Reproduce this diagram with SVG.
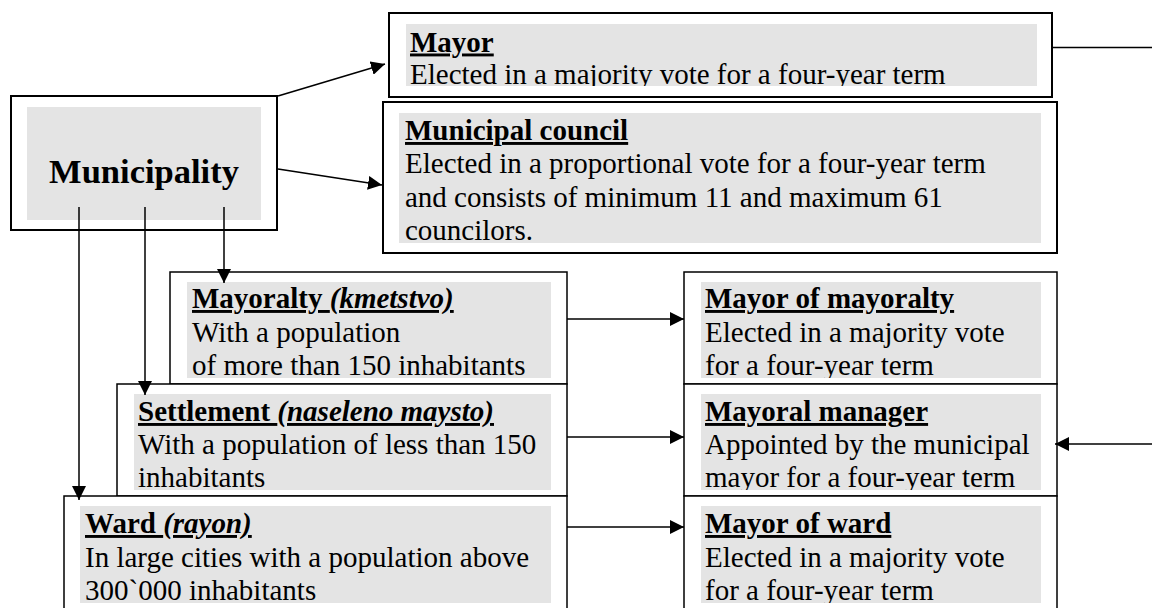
<svg xmlns="http://www.w3.org/2000/svg" width="1152" height="608" viewBox="0 0 1152 608">
<style>
.box{fill:#fff;stroke:#000;stroke-width:1.5}
.bx2{fill:#fff;stroke:#000;stroke-width:2}
.grey{fill:#e4e4e4;stroke:none}
.t{font-family:"Liberation Serif","Times New Roman",serif;font-size:29px;fill:#000}
.h{font-weight:bold;text-decoration:underline}
.i{font-style:italic}
.big{font-family:"Liberation Serif","Times New Roman",serif;font-size:34.5px;font-weight:bold;fill:#000}
.c{fill:none;stroke:#000;stroke-width:1.5}
</style>
<defs>
<marker id="arr" viewBox="0 0 14 14" refX="14" refY="7" markerWidth="14" markerHeight="14" markerUnits="userSpaceOnUse" orient="auto">
<path d="M0,0 L14,7 L0,14 z" fill="#000"/>
</marker>
<clipPath id="cMayor"><rect x="406" y="24" width="631" height="62"/></clipPath>
<clipPath id="cCouncil"><rect x="399" y="113" width="642" height="130"/></clipPath>
<clipPath id="cMay"><rect x="187" y="282" width="364" height="96"/></clipPath>
<clipPath id="cSet"><rect x="134" y="394" width="417" height="96"/></clipPath>
<clipPath id="cWard"><rect x="80" y="506" width="471" height="97"/></clipPath>
<clipPath id="cMoM"><rect x="701" y="282" width="340" height="96"/></clipPath>
<clipPath id="cMM"><rect x="701" y="394" width="340" height="96"/></clipPath>
<clipPath id="cMoW"><rect x="701" y="506" width="340" height="97"/></clipPath>
</defs>

<g id="municipality">
<rect class="bx2" x="11" y="96" width="266" height="134"/>
<rect class="grey" x="27" y="107" width="234" height="113"/>
<text class="big" x="144" y="183" text-anchor="middle">Municipality</text>
</g>

<g id="mayor">
<rect class="bx2" x="389" y="13" width="663" height="84"/>
<rect class="grey" x="406" y="24" width="631" height="62"/>
<g clip-path="url(#cMayor)">
<text class="t h" x="410" y="51.5">Mayor</text>
<text class="t" x="410" y="84">Elected in a majority vote for a four-year term</text>
</g>
</g>

<g id="council">
<rect class="bx2" x="383" y="102" width="674" height="151"/>
<rect class="grey" x="399" y="113" width="642" height="130"/>
<g clip-path="url(#cCouncil)">
<text class="t h" x="405" y="140">Municipal council</text>
<text class="t" x="405" y="173">Elected in a proportional vote for a four-year term</text>
<text class="t" x="405" y="206.5">and consists of minimum 11 and maximum 61</text>
<text class="t" x="405" y="240">councilors.</text>
</g>
</g>

<g id="mayoralty">
<rect class="box" x="170" y="272" width="397" height="112"/>
<rect class="grey" x="187" y="282" width="364" height="96"/>
<g clip-path="url(#cMay)">
<text class="t h" x="192" y="308">Mayoralty <tspan class="i">(kmetstvo)</tspan></text>
<text class="t" x="192" y="341.5">With a population</text>
<text class="t" x="192" y="375">of more than 150 inhabitants</text>
</g>
</g>

<g id="settlement">
<rect class="box" x="117" y="384" width="450" height="112"/>
<rect class="grey" x="134" y="394" width="417" height="96"/>
<g clip-path="url(#cSet)">
<text class="t h" x="138" y="421">Settlement <tspan class="i">(naseleno maysto)</tspan></text>
<text class="t" x="138" y="454">With a population of less than 150</text>
<text class="t" x="138" y="487">inhabitants</text>
</g>
</g>

<g id="ward">
<rect class="box" x="64" y="496" width="503" height="120"/>
<rect class="grey" x="80" y="506" width="471" height="97"/>
<g clip-path="url(#cWard)">
<text class="t h" x="85" y="533">Ward <tspan class="i">(rayon)</tspan></text>
<text class="t" x="85" y="566.5">In large cities with a population above</text>
<text class="t" x="85" y="599.5">300`000 inhabitants</text>
</g>
</g>

<g id="mayor-of-mayoralty">
<rect class="box" x="684" y="272" width="373" height="112"/>
<rect class="grey" x="701" y="282" width="340" height="96"/>
<g clip-path="url(#cMoM)">
<text class="t h" x="705" y="308">Mayor of mayoralty</text>
<text class="t" x="705" y="341.5">Elected in a majority vote</text>
<text class="t" x="705" y="375">for a four-year term</text>
</g>
</g>

<g id="mayoral-manager">
<rect class="box" x="684" y="384" width="373" height="112"/>
<rect class="grey" x="701" y="394" width="340" height="96"/>
<g clip-path="url(#cMM)">
<text class="t h" x="705" y="421">Mayoral manager</text>
<text class="t" x="705" y="454">Appointed by the municipal</text>
<text class="t" x="705" y="487">mayor for a four-year term</text>
</g>
</g>

<g id="mayor-of-ward">
<rect class="box" x="684" y="496" width="373" height="120"/>
<rect class="grey" x="701" y="506" width="340" height="97"/>
<g clip-path="url(#cMoW)">
<text class="t h" x="705" y="533">Mayor of ward</text>
<text class="t" x="705" y="566.5">Elected in a majority vote</text>
<text class="t" x="705" y="599.5">for a four-year term</text>
</g>
</g>

<g id="connectors">
<line class="c" x1="278" y1="96" x2="385" y2="64" marker-end="url(#arr)"/>
<line class="c" x1="278" y1="169" x2="382" y2="185" marker-end="url(#arr)"/>
<line class="c" x1="224" y1="207" x2="224" y2="283" marker-end="url(#arr)"/>
<line class="c" x1="145" y1="207" x2="145" y2="395" marker-end="url(#arr)"/>
<line class="c" x1="79" y1="207" x2="79" y2="500" marker-end="url(#arr)"/>
<line class="c" x1="567" y1="319" x2="684" y2="319" marker-end="url(#arr)"/>
<line class="c" x1="567" y1="437" x2="684" y2="437" marker-end="url(#arr)"/>
<line class="c" x1="567" y1="527" x2="684" y2="527" marker-end="url(#arr)"/>
<line class="c" x1="1052" y1="47.5" x2="1152" y2="47.5"/>
<line class="c" x1="1152" y1="444" x2="1055" y2="444" marker-end="url(#arr)"/>
</g>
</svg>
